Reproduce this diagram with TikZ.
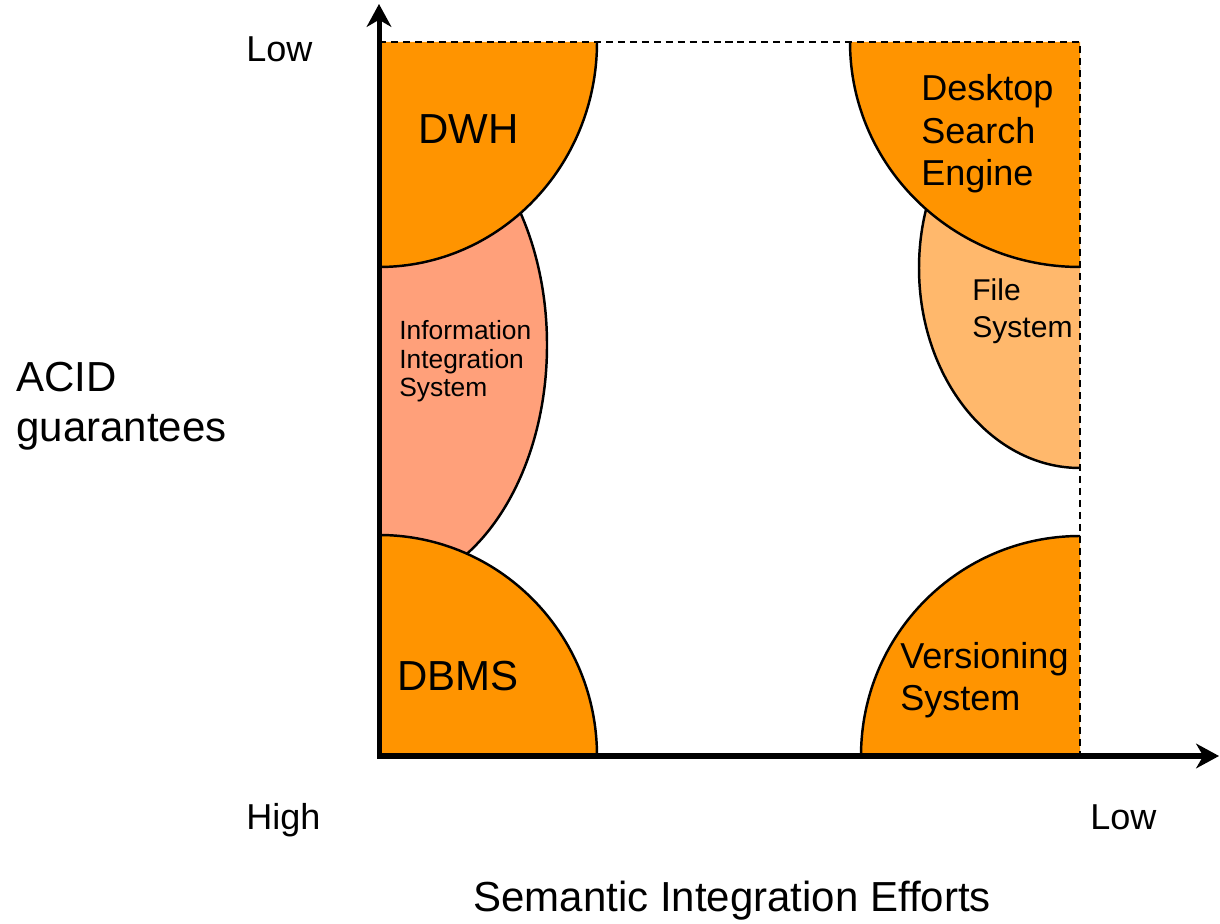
\documentclass[tikz,border=0pt]{standalone}
\usepackage{fontspec}
\setmainfont{Liberation Sans}
\usepackage{xcolor}
\usepackage{tikz}
\usetikzlibrary{arrows.meta}

\definecolor{coreorange}{HTML}{FF9400}
\definecolor{iisalmon}{HTML}{FFA07A}
\definecolor{fslight}{HTML}{FFB86C}

\begin{document}
\begin{tikzpicture}[
    x=0.02cm, y=0.02cm,
    axis/.style={line width=2.85pt, line join=miter, {Stealth[length=13pt,width=14pt,inset=4pt]}-{Stealth[length=13pt,width=14pt,inset=4pt]}},
    rim/.style={line width=1.4pt, draw=black},
    border/.style={line width=1.4pt, dash pattern=on 4pt off 2.8pt},
    lbl/.style={anchor=base west, inner sep=0pt, align=left},
    huge/.style={font=\fontsize{23.9pt}{29pt}\selectfont},
    big/.style={font=\fontsize{20.5pt}{24.2pt}\selectfont},
    mid/.style={font=\fontsize{17.1pt}{21.5pt}\selectfont},
    small/.style={font=\fontsize{15pt}{16.5pt}\selectfont}
]
\useasboundingbox (0,0) rectangle (1220,923);

% Left column
\fill[iisalmon] (379,823) arc[start angle=90, end angle=-90, x radius=168, y radius=245] -- cycle;
\draw[rim] (379,823) arc[start angle=90, end angle=-90, x radius=168, y radius=245];
\fill[coreorange] (379,881) -- (597,881) arc[start angle=0, end angle=-90, x radius=218, y radius=225] -- cycle;
\draw[rim] (597,881) arc[start angle=0, end angle=-90, x radius=218, y radius=225];
\fill[coreorange] (379,167) -- (597,167) arc[start angle=0, end angle=90, x radius=218, y radius=221] -- cycle;
\draw[rim] (597,167) arc[start angle=0, end angle=90, x radius=218, y radius=221];

% Right column
\fill[fslight] (1080,855) arc[start angle=90, end angle=270, x radius=161, y radius=200] -- cycle;
\draw[rim] (1080,855) arc[start angle=90, end angle=270, x radius=161, y radius=200];
\fill[coreorange] (1080,881) -- (850,881) arc[start angle=180, end angle=270, x radius=230, y radius=225] -- cycle;
\draw[rim] (850,881) arc[start angle=180, end angle=270, x radius=230, y radius=225];
\fill[coreorange] (1080,167) -- (861,167) arc[start angle=180, end angle=90, x radius=219, y radius=220] -- cycle;
\draw[rim] (861,167) arc[start angle=180, end angle=90, x radius=219, y radius=220];

% Frame and axes
\draw[border] (379,881) -- (1080,881) -- (1080,167);
\draw[axis] (379,919) -- (379,167) -- (1219,167);

% Labels (multi-line: last baseline)
\node[lbl, huge] (dwh) at (418,779) {DWH};
\node[lbl, huge] (dbms) at (397,232) {DBMS};
\node[lbl, small] (iis) at (399,526) {Information\\Integration\\System};
\node[lbl, big] (dse) at (921,737) {Desktop\\Search\\Engine};
\node[lbl, mid] (fs) at (972,585) {File\\System};
\node[lbl, big] (vs) at (900,212) {Versioning\\System};

\node[lbl, big] (acidlow) at (246,861) {Low};
\node[lbl, big] (acidhigh) at (246,94) {High};
\node[lbl, big] (effortlow) at (1090,94) {Low};
\node[lbl, huge] (acid) at (16,481) {ACID\\guarantees};
\node[lbl, huge] (effort) at (473,12) {Semantic Integration Efforts};
\end{tikzpicture}
\end{document}
